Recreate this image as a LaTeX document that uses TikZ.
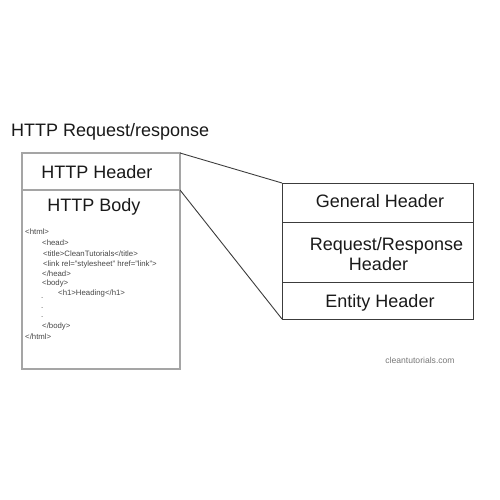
\documentclass[tikz,border=0pt]{standalone}
\usepackage{fontspec}
\setmainfont{Liberation Sans}
\usetikzlibrary{math}
\definecolor{boxgray}{RGB}{165,165,165}
\definecolor{linegray}{RGB}{60,60,60}
\definecolor{codegray}{RGB}{70,70,70}
\definecolor{urlgray}{RGB}{120,120,120}

\begin{document}
\begin{tikzpicture}[x=1pt,y=-1pt,
  lbl/.style={anchor=base,inner sep=0pt,color=black!90,font=\fontsize{18}{20}\selectfont},
  code/.style={anchor=base west,inner sep=0pt,color=codegray,font=\fontsize{7.8}{9}\selectfont}]
\tikzmath{
\Lx=22; \Rx=180;
\Gx=282; \Hx=473;
}
\useasboundingbox (0,0) rectangle (500,500);

\coordinate (lTop) at (\Rx,153);
\coordinate (lMid) at (\Rx,190);
\coordinate (rTop) at (\Gx,183);
\coordinate (rBot) at (\Gx,319);

% left box
\draw[color=boxgray,line width=1.4] (\Lx,153) rectangle (\Rx,369);
\draw[color=boxgray,line width=1.4] (\Lx,190) -- (lMid);

% right box
\draw[color=linegray,line width=1] (rTop) rectangle (\Hx,319);
\draw[color=linegray,line width=1] (\Gx,222) -- (\Hx,222);
\draw[color=linegray,line width=1] (\Gx,282) -- (\Hx,282);

% zoom lines
\draw[color=linegray,line width=0.9] (lTop) -- (rTop);
\draw[color=linegray,line width=0.9] (lMid) -- (rBot);

\node[lbl,anchor=base west] (title) at (11,136) {HTTP Request/response};
\node[lbl] (hdr) at (97,178) {HTTP Header};
\node[lbl] (body) at (94,211) {HTTP Body};

\node[lbl] (gen) at (380,207.5) {General Header};
\node[lbl] (req) at (386.5,250) {Request/Response};
\node[lbl] (req2) at (378.5,270) {Header};
\node[lbl] (ent) at (380,307) {Entity Header};

% page source
\node[code] (c1) at (25,234) {<html>};
\node[code] (c2) at (42,245) {<head>};
\node[code] (c3) at (43,256) {<title>CleanTutorials</title>};
\node[code] (c4) at (43,266) {<link rel="stylesheet" href="link">};
\node[code] (c5) at (42,276) {</head>};
\node[code] (c6) at (42,285) {<body>};
\node[code] (c7) at (58,295) {<h1>Heading</h1>};
\node[code] (c8) at (41,298) {.};
\node[code] (c9) at (41,308) {.};
\node[code] (c10) at (41,317) {.};
\node[code] (c11) at (42,328) {</body>};
\node[code] (c12) at (25,339) {</html>};

\node[anchor=base,inner sep=0pt,color=urlgray,font=\fontsize{8.6}{10}\selectfont] (url) at (420,363) {cleantutorials.com};
\end{tikzpicture}
\end{document}
